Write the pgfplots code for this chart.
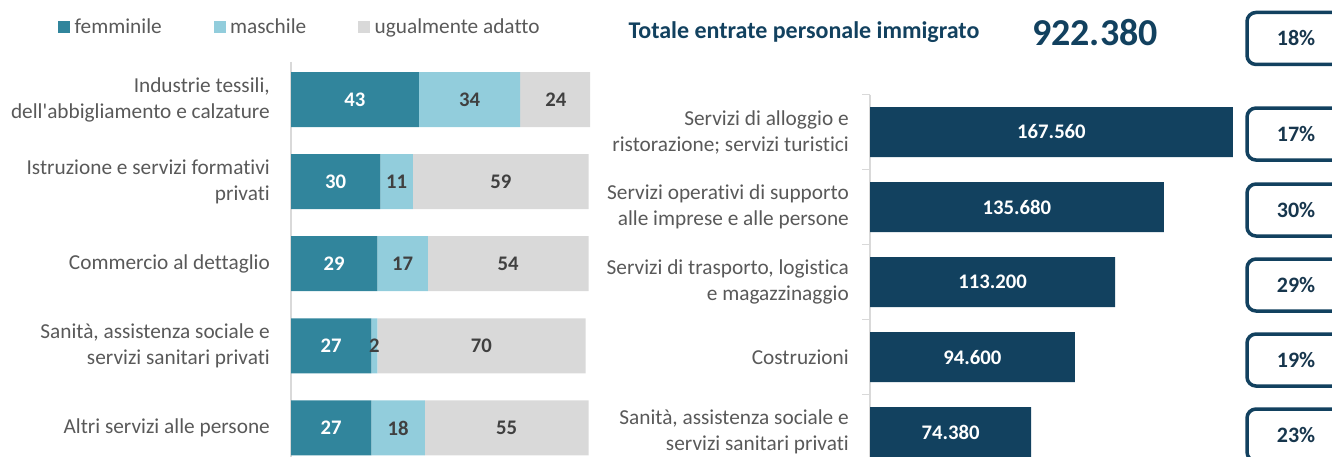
\documentclass[border=0pt]{standalone}
\usepackage{fontspec}
\setmainfont{Carlito}[Ligatures=NoCommon]
\newfontfamily\carl{Carlito}[Ligatures=NoCommon]
\usepackage{pgfplots}
\pgfplotsset{compat=1.18}

\definecolor{femm}{HTML}{31859C}
\definecolor{masc}{HTML}{92CDDC}
\definecolor{ugua}{HTML}{D9D9D9}
\definecolor{navy}{HTML}{12415F}
\definecolor{boxtxt}{HTML}{17364D}
\definecolor{labgray}{HTML}{595959}
\definecolor{valgray}{HTML}{404040}

\newcommand{\catfont}{\carl\fontsize{21.3}{26}\selectfont}
\newcommand{\valfont}{\carl\fontsize{20.7}{24}\selectfont\bfseries}

\begin{document}
\begin{tikzpicture}
\useasboundingbox (0,0) rectangle (1332pt,457pt);

% ---- left: quote per genere ----
\begin{axis}[
  at={(291pt,0pt)}, anchor=south west,
  scale only axis, width=299pt, height=395pt,
  xbar stacked, bar width=55pt,
  xmin=0, xmax=100.5,
  ymin=-0.457, ymax=4.354, y dir=reverse,
  axis x line=none, axis y line*=left,
  y axis line style={draw=ugua, line width=1.5pt},
  ytick={0,...,4},
  yticklabels={{Industrie tessili,\\dell'abbigliamento e calzature},
               {Istruzione e servizi formativi\\privati},
               {Commercio al dettaglio},
               {Sanità, assistenza sociale e\\servizi sanitari privati},
               {Altri servizi alle persone}},
  major tick length=0pt,
  yticklabel style={align=right, inner sep=0pt, xshift=-21pt, font=\catfont, text=labgray},
  legend style={at={(axis description cs:-0.7793,1.0886)}, anchor=west,
    draw=none, fill=none, inner sep=0pt, legend columns=3,
    font=\catfont, text=labgray, nodes={inner sep=0pt},
    /tikz/every odd column/.append style={column sep=4.5pt}},
  legend cell align=left,
  legend image code/.code={\fill[#1] (0pt,-6pt) rectangle (12pt,6pt);},
]
\addplot[fill=femm, draw=none] coordinates {(43,0) (30,1) (29,2) (27,3) (27,4)};
\addlegendentry{\makebox[139pt][l]{femminile}}
\addplot[fill=masc, draw=none] coordinates {(34,0) (11,1) (17,2) (2,3) (18,4)};
\addlegendentry{\makebox[128pt][l]{maschile}}
\addplot[fill=ugua, draw=none] coordinates {(24,0) (59,1) (54,2) (70,3) (55,4)};
\addlegendentry{ugualmente adatto}
\end{axis}

% value labels, centred in each segment
\begin{axis}[
  at={(291pt,0pt)}, anchor=south west,
  scale only axis, width=299pt, height=395pt,
  xmin=0, xmax=100.5,
  ymin=-0.457, ymax=4.354, y dir=reverse,
  hide axis, clip=false,
  point meta=explicit symbolic,
]
\addplot[draw=none, mark=none, nodes near coords,
  nodes near coords style={anchor=center, text=white, font=\valfont}]
  coordinates {(21.5,0)[43] (15,1)[30] (14.5,2)[29] (13.5,3)[27] (13.5,4)[27]};
\addplot[draw=none, mark=none, nodes near coords,
  nodes near coords style={anchor=center, text=valgray, font=\valfont}]
  coordinates {(60,0)[34] (35.5,1)[11] (37.5,2)[17] (28,3)[2] (36,4)[18]};
\addplot[draw=none, mark=none, nodes near coords,
  nodes near coords style={anchor=center, text=valgray, font=\valfont}]
  coordinates {(89,0)[24] (70.5,1)[59] (73,2)[54] (64,3)[70] (72.5,4)[55]};
\end{axis}

% ---- right: entrate personale immigrato ----
\begin{axis}[
  at={(870pt,0pt)}, anchor=south west,
  scale only axis, width=433.2pt, height=362.5pt,
  xmin=0, xmax=200000,
  ymin=-0.5, ymax=4.333, y dir=reverse,
  clip=false,
  axis x line=none, axis y line*=left,
  y axis line style={draw=ugua, line width=1.5pt},
  ytick={0,...,4},
  yticklabels={{Servizi di alloggio e\\ristorazione; servizi turistici},
               {Servizi operativi di supporto\\alle imprese e alle persone},
               {Servizi di trasporto, logistica\\e magazzinaggio},
               {Costruzioni},
               {Sanità, assistenza sociale e\\servizi sanitari privati}},
  minor ytick={-0.5,0.5,1.5,2.5,3.5},
  major tick length=0pt, minor tick length=8pt, tick align=outside,
  minor tick style={draw=ugua, line width=1.5pt},
  yticklabel style={align=right, inner sep=0pt, xshift=-21pt, font=\catfont, text=labgray},
]
\addplot[xbar, bar width=50pt, bar shift=0pt, fill=navy, draw=none]
  coordinates {(167560,0) (135680,1) (113200,2) (94600,3) (74380,4)};
\addplot[draw=none, mark=none, nodes near coords, point meta=explicit symbolic,
  nodes near coords style={anchor=center, text=white, font=\valfont}]
  coordinates {(83780,0)[167.560] (67840,1)[135.680] (56600,2)[113.200] (47300,3)[94.600] (37190,4)[74.380]};
% percentage boxes
\addplot[draw=none, mark=none, nodes near coords, point meta=explicit symbolic,
  nodes near coords style={anchor=center, draw=navy, line width=3.5pt, rounded corners=9pt,
    fill=white, minimum width=98pt, minimum height=52pt, text=boxtxt,
    font=\carl\fontsize{22}{24}\selectfont\bfseries}]
  coordinates {(196676,-1.247)[18\%] (196676,0.027)[17\%] (196676,1.04)[30\%]
               (196676,2.04)[29\%] (196676,3.04)[19\%] (196676,4.04)[23\%]};
\end{axis}

\node[anchor=west, text=navy, font=\carl\fontsize{24}{28}\selectfont\bfseries] at (625pt,425pt)
  {Totale entrate personale immigrato};
\node[text=navy, font=\carl\fontsize{38}{40}\selectfont\bfseries] at (1095pt,424pt) {922.380};
\end{tikzpicture}
\end{document}
